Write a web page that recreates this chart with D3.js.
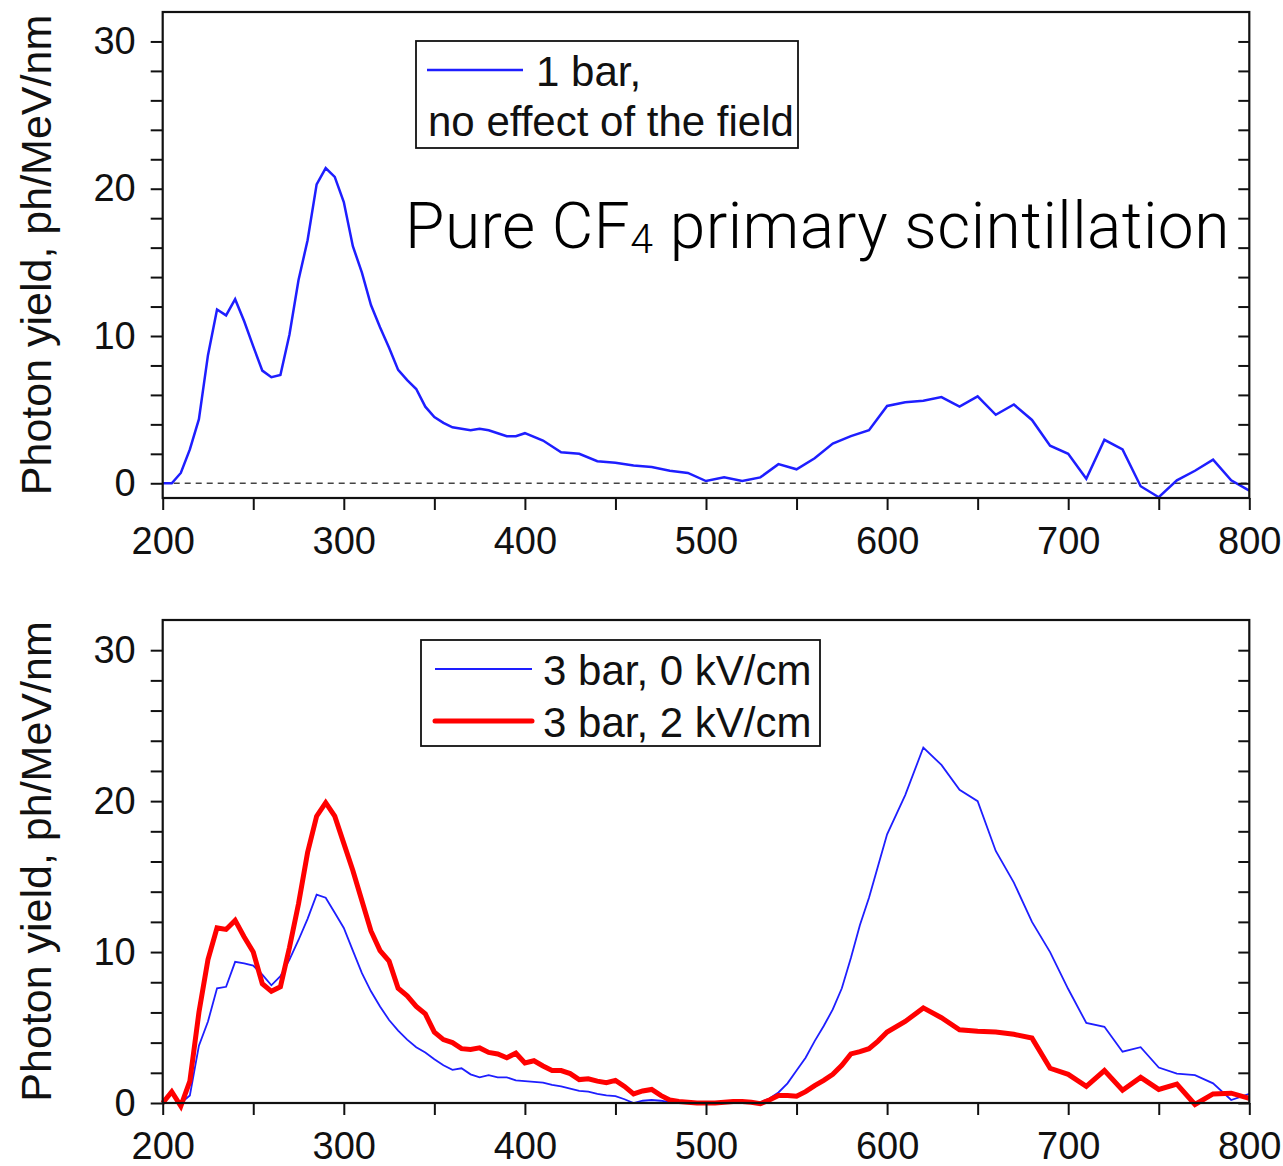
<!DOCTYPE html>
<html>
<head>
<meta charset="utf-8">
<script src="https://cdn.jsdelivr.net/npm/d3@7"></script>
<style>
  html, body { margin: 0; padding: 0; background: #fff; }
  svg { display: block; }
</style>
</head>
<body>
<svg id="chart" width="1283" height="1166"></svg>
<script>
// ---------------- DATA ----------------
// Top panel: 1 bar (no effect of the field)
const topWavelengths = [200,205,210,215,220,225,230,235,240,245,250,255,260,265,270,275,280,285,290,295,300,305,310,315,320,325,330,335,340,345,350,355,360,365,370,375,380,385,390,395,400,
  410,420,430,440,450,460,470,480,490,500,510,520,530,540,550,560,570,580,590,600,610,620,630,640,650,660,670,680,690,700,710,720,730,740,750,760,770,780,790,800];
const bar1Values = [0,0,0.7,2.3,4.35,8.7,11.8,11.4,12.5,11.0,9.3,7.65,7.2,7.35,10.1,13.8,16.5,20.3,21.4,20.8,19.1,16.1,14.3,12.1,10.6,9.2,7.7,7.0,6.4,5.2,4.5,4.1,3.8,3.7,3.6,3.7,3.6,3.4,3.2,3.2,3.4,
  2.9,2.1,2.0,1.5,1.4,1.2,1.1,0.85,0.7,0.15,0.4,0.15,0.4,1.3,0.95,1.7,2.7,3.2,3.6,5.25,5.5,5.6,5.85,5.2,5.9,4.65,5.35,4.3,2.55,2.0,0.3,2.95,2.3,-0.2,-0.95,0.2,0.85,1.6,0.2,-0.5];

// Bottom panel: 3 bar
const bottomWavelengths = [200,205,210,215,220,225,230,235,240,245,250,255,260,265,270,275,280,285,290,295,300,305,310,315,320,325,330,335,340,345,350,355,360,365,370,375,380,385,390,395,400,
  405,410,415,420,425,430,435,440,445,450,455,460,465,470,475,480,485,490,495,500,505,510,515,520,525,530,535,540,545,550,555,560,565,570,575,580,585,590,595,600,
  610,620,630,640,650,660,670,680,690,700,710,720,730,740,750,760,770,780,790,800];
const bar3Field0Values = [0,0,0,0.5,3.8,5.4,7.6,7.7,9.35,9.25,9.1,8.5,7.8,8.4,9.5,10.8,12.2,13.8,13.6,12.6,11.6,10.1,8.6,7.4,6.4,5.5,4.8,4.2,3.7,3.35,2.9,2.5,2.2,2.3,1.9,1.7,1.85,1.7,1.7,1.5,1.45,
  1.4,1.35,1.2,1.1,0.95,0.8,0.75,0.6,0.5,0.45,0.25,0.0,0.15,0.2,0.15,0.05,0,0,0,0,0,0,0,0,0,0.05,0.3,0.7,1.3,2.15,3.0,4.1,5.1,6.2,7.6,9.6,11.8,13.6,15.7,17.8,
  20.4,23.55,22.4,20.75,20.0,16.7,14.6,12.0,10.0,7.55,5.3,5.05,3.4,3.7,2.35,1.95,1.85,1.3,0.2,0.6];
const bar3Field2Values = [0,0.75,-0.2,1.45,6.0,9.5,11.6,11.5,12.1,11.0,10.0,7.9,7.4,7.7,10.3,13.2,16.6,19.0,19.9,19.0,17.2,15.4,13.4,11.4,10.1,9.4,7.6,7.1,6.4,5.9,4.7,4.2,4.0,3.6,3.55,3.65,3.35,3.25,3.0,3.3,2.65,
  2.8,2.45,2.15,2.15,1.95,1.55,1.6,1.45,1.35,1.5,1.1,0.6,0.8,0.9,0.5,0.2,0.1,0.05,0,0,0,0.05,0.1,0.1,0.05,-0.05,0.2,0.5,0.5,0.45,0.75,1.15,1.5,1.9,2.5,3.25,3.4,3.6,4.1,4.7,
  5.4,6.3,5.65,4.85,4.75,4.7,4.55,4.3,2.3,1.9,1.1,2.15,0.85,1.7,0.9,1.25,-0.1,0.6,0.65,0.3];

const xTickValues = [200,250,300,350,400,450,500,550,600,650,700,750,800];
const xTickLabels = ["200","","300","","400","","500","","600","","700","","800"];
const yTickValues = [0,2,4,6,8,10,12,14,16,18,20,22,24,26,28,30];
const yTickLabels = ["0","","","","","10","","","","","20","","","","","30"];

const yAxisTitle = "Photon yield, ph/MeV/nm";
const topLegendLines = ["1 bar,", "no effect of the field"];
const bottomLegendLabels = ["3 bar, 0 kV/cm", "3 bar, 2 kV/cm"];

// ---------------- DRAWING ----------------
const svg = d3.select("#chart");
const FONT = "'Liberation Sans', Arial, Helvetica, sans-serif";
const BLUE = "#1e1eff";
const RED = "#ff0000";

const left = 162.7, right = 1249.3;
const x = d3.scaleLinear().domain([200, 800]).range([left, right]);

function panel(top, bottom, yDomain, series, zeroDash) {
  const y = d3.scaleLinear().domain(yDomain).range([bottom, top]);
  const g = svg.append("g");

  if (zeroDash) {
    g.append("line")
      .attr("x1", left).attr("x2", right)
      .attr("y1", y(0)).attr("y2", y(0))
      .attr("stroke", "#444").attr("stroke-width", 1.3)
      .attr("stroke-dasharray", "6,5");
  }

  series.forEach(s => {
    const line = d3.line().x((d, i) => x(s.xs[i])).y(d => y(d));
    g.append("path").datum(s.ys)
      .attr("d", line)
      .attr("fill", "none")
      .attr("stroke", s.color)
      .attr("stroke-width", s.width)
      .attr("stroke-linejoin", "miter")
      .attr("stroke-miterlimit", 3);
  });

  const yl = g.append("g").attr("transform", `translate(${left},0)`)
    .call(d3.axisLeft(y).tickValues(yTickValues).tickSize(12).tickPadding(15)
      .tickFormat((d, i) => yTickLabels[i]));
  const yr = g.append("g").attr("transform", `translate(${right},0)`)
    .call(d3.axisLeft(y).tickValues(yTickValues).tickSize(11).tickFormat(""));
  const xb = g.append("g").attr("transform", `translate(0,${bottom})`)
    .call(d3.axisBottom(x).tickValues(xTickValues).tickSize(12).tickPadding(17)
      .tickFormat((d, i) => xTickLabels[i]));

  [yl, yr, xb].forEach(a => {
    a.select(".domain").remove();
    a.selectAll(".tick line").attr("stroke", "#111").attr("stroke-width", 2);
    a.selectAll("text").attr("font-family", FONT).attr("font-size", 38).attr("fill", "#111");
  });

  g.append("rect")
    .attr("x", left).attr("y", top)
    .attr("width", right - left).attr("height", bottom - top)
    .attr("fill", "none").attr("stroke", "#111").attr("stroke-width", 2.2);

  g.append("text")
    .attr("transform", `translate(51,${(top + bottom) / 2}) rotate(-90)`)
    .attr("text-anchor", "middle")
    .attr("font-family", FONT).attr("font-size", 43).attr("fill", "#111")
    .text(yAxisTitle);

  return { g, y };
}

// Top panel
const topP = panel(12, 498, [-1, 32], [
  { xs: topWavelengths, ys: bar1Values, color: BLUE, width: 2.5 }
], true);

{
  const g = topP.g;
  g.append("rect").attr("x", 416).attr("y", 41).attr("width", 382).attr("height", 107)
    .attr("fill", "#fff").attr("stroke", "#111").attr("stroke-width", 1.8);
  g.append("line").attr("x1", 427).attr("x2", 523).attr("y1", 70).attr("y2", 70)
    .attr("stroke", BLUE).attr("stroke-width", 2.3);
  g.append("text").attr("x", 536).attr("y", 86)
    .attr("font-family", FONT).attr("font-size", 42).attr("fill", "#111")
    .text(topLegendLines[0]);
  g.append("text").attr("x", 428).attr("y", 136)
    .attr("font-family", FONT).attr("font-size", 42).attr("fill", "#111")
    .text(topLegendLines[1]);

  const t = g.append("text").attr("x", 405).attr("y", 248)
    .attr("font-family", "'Roboto', 'Open Sans', 'Noto Sans', sans-serif")
    .attr("font-weight", 300)
    .attr("letter-spacing", 0.5)
    .attr("font-size", 64).attr("fill", "#000");
  t.append("tspan").text("Pure CF");
  t.append("tspan").attr("font-size", 41).attr("dy", 5).text("4");
  t.append("tspan").attr("dy", -5).text(" primary scintillation");
}

// Bottom panel
const botP = panel(620, 1103, [0, 32], [
  { xs: bottomWavelengths, ys: bar3Field0Values, color: BLUE, width: 1.8 },
  { xs: bottomWavelengths, ys: bar3Field2Values, color: RED, width: 5 }
], false);

{
  const g = botP.g;
  g.append("rect").attr("x", 421).attr("y", 640).attr("width", 399).attr("height", 106)
    .attr("fill", "#fff").attr("stroke", "#111").attr("stroke-width", 1.8);
  g.append("line").attr("x1", 435).attr("x2", 532).attr("y1", 669).attr("y2", 669)
    .attr("stroke", BLUE).attr("stroke-width", 1.8);
  g.append("line").attr("x1", 435).attr("x2", 532).attr("y1", 721).attr("y2", 721)
    .attr("stroke", RED).attr("stroke-width", 5).attr("stroke-linecap", "round");
  g.append("text").attr("x", 543).attr("y", 685)
    .attr("font-family", FONT).attr("font-size", 42).attr("fill", "#111")
    .text(bottomLegendLabels[0]);
  g.append("text").attr("x", 543).attr("y", 737)
    .attr("font-family", FONT).attr("font-size", 42).attr("fill", "#111")
    .text(bottomLegendLabels[1]);
}
</script>
</body>
</html>
